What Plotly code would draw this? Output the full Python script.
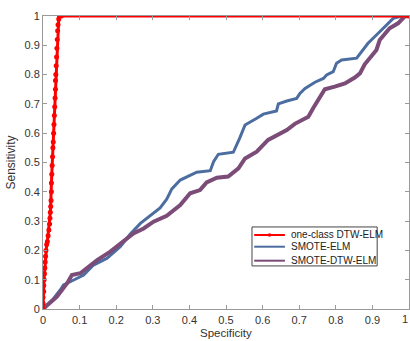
import plotly.graph_objects as go

# one-class DTW-ELM
red_x = [0, 0, 0, 0.002, 0.002, 0.003, 0.004, 0.005, 0.006, 0.007, 0.008, 0.010, 0.012, 0.014,
         0.016, 0.018, 0.019, 0.020, 0.021, 0.022, 0.023, 0.023, 0.024, 0.025, 0.026, 0.027,
         0.028, 0.029, 0.030, 0.031, 0.032, 0.033, 0.034, 0.034, 0.035, 0.036, 0.037, 0.038,
         0.039, 0.040, 0.041, 0.043, 0.045, 0.05, 1.0]
red_y = [0, 0.02, 0.04, 0.06, 0.08, 0.10, 0.12, 0.14, 0.16, 0.18, 0.20, 0.22, 0.23, 0.25,
         0.27, 0.29, 0.31, 0.33, 0.35, 0.37, 0.40, 0.43, 0.46, 0.49, 0.52, 0.55,
         0.57, 0.60, 0.63, 0.66, 0.69, 0.72, 0.75, 0.78, 0.80, 0.83, 0.86, 0.89,
         0.92, 0.95, 0.97, 0.99, 1.0, 1.0, 1.0]

# SMOTE-ELM
blue_x = [0, 0.029, 0.047, 0.056, 0.084, 0.111, 0.138, 0.175, 0.211, 0.238, 0.266, 0.293, 0.32,
          0.338, 0.352, 0.375, 0.42, 0.457, 0.466, 0.479, 0.52, 0.538, 0.552, 0.584, 0.602,
          0.638, 0.643, 0.666, 0.693, 0.702, 0.716, 0.743, 0.766, 0.775, 0.793, 0.802, 0.816,
          0.857, 0.879, 0.888, 0.911, 0.947, 0.957, 0.975, 1.0]
blue_y = [0, 0.036, 0.065, 0.082, 0.099, 0.116, 0.15, 0.173, 0.213, 0.255, 0.292, 0.318, 0.345,
          0.375, 0.41, 0.44, 0.467, 0.472, 0.503, 0.528, 0.535, 0.585, 0.628, 0.651, 0.665,
          0.676, 0.70, 0.71, 0.719, 0.736, 0.753, 0.774, 0.787, 0.799, 0.81, 0.839, 0.85,
          0.856, 0.89, 0.907, 0.935, 0.981, 0.992, 0.998, 1.0]

# SMOTE-DTW-ELM
purple_x = [0, 0.038, 0.066, 0.079, 0.102, 0.148, 0.184, 0.22, 0.247, 0.275, 0.302, 0.338,
            0.375, 0.402, 0.429, 0.447, 0.475, 0.506, 0.534, 0.552, 0.584, 0.615, 0.638,
            0.666, 0.688, 0.706, 0.725, 0.738, 0.756, 0.77, 0.797, 0.825, 0.852, 0.866,
            0.879, 0.897, 0.911, 0.92, 0.947, 0.97, 0.988, 1.0]
purple_y = [0, 0.042, 0.088, 0.116, 0.122, 0.167, 0.196, 0.23, 0.258, 0.275, 0.298, 0.318,
            0.355, 0.395, 0.406, 0.432, 0.448, 0.452, 0.48, 0.514, 0.537, 0.577, 0.594,
            0.611, 0.632, 0.645, 0.656, 0.685, 0.725, 0.75, 0.759, 0.77, 0.79, 0.804,
            0.835, 0.864, 0.884, 0.918, 0.958, 0.975, 0.998, 1.0]

series_names = ["one-class DTW-ELM", "SMOTE-ELM", "SMOTE-DTW-ELM"]
series_colors = ["#FF0000", "#4C6DA0", "#7B4C78"]

ticks = [0, 0.1, 0.2, 0.3, 0.4, 0.5, 0.6, 0.7, 0.8, 0.9, 1]
tick_text = ["0", "0.1", "0.2", "0.3", "0.4", "0.5", "0.6", "0.7", "0.8", "0.9", "1"]
x_title = "Specificity"
y_title = "Sensitivity"

FONT = "Liberation Sans, Arial, sans-serif"
TXT = "#333333"

fig = go.Figure()
fig.add_trace(go.Scatter(x=blue_x, y=blue_y, mode="lines", name=series_names[1],
                         line=dict(color=series_colors[1], width=3), showlegend=False))
fig.add_trace(go.Scatter(x=purple_x, y=purple_y, mode="lines", name=series_names[2],
                         line=dict(color=series_colors[2], width=4), showlegend=False))
fig.add_trace(go.Scatter(x=red_x, y=red_y, mode="lines+markers", name=series_names[0],
                         line=dict(color=series_colors[0], width=3),
                         marker=dict(color=series_colors[0], size=5, symbol="circle"),
                         showlegend=False))

axis_common = dict(
    range=[0, 1], tickvals=ticks, showgrid=False, zeroline=False,
    showline=True, linecolor="#9a9a9a", linewidth=1, mirror="ticks",
    ticks="inside", ticklen=4, tickcolor="#9a9a9a", automargin=False,
    tickfont=dict(family=FONT, size=11, color=TXT),
)

# Manual legend box (paper coordinates), matching the compact MATLAB style
lg_x0, lg_x1, lg_y0, lg_y1 = 0.571, 0.913, 0.147, 0.280
row_y = [0.2526, 0.2126, 0.1649]
shapes = [dict(type="rect", xref="paper", yref="paper", x0=lg_x0, x1=lg_x1, y0=lg_y0, y1=lg_y1,
               line=dict(color="#444444", width=1), fillcolor="white", layer="above")]
annotations = []
for name, col, ry in zip(series_names, series_colors, row_y):
    shapes.append(dict(type="line", xref="paper", yref="paper", x0=0.577, x1=0.661, y0=ry, y1=ry,
                       line=dict(color=col, width=2), layer="above"))
    annotations.append(dict(xref="paper", yref="paper", x=0.671, y=ry, text=name, showarrow=False,
                            xanchor="left", yanchor="middle",
                            font=dict(family=FONT, size=10, color="#222222")))
# marker dot in the red legend sample
shapes.append(dict(type="circle", xref="paper", yref="paper", x0=0.614, x1=0.624,
                   y0=row_y[0] - 0.006, y1=row_y[0] + 0.006,
                   line=dict(color="#FF0000", width=0), fillcolor="#FF0000", layer="above"))

# last x tick label, right-aligned so it stays inside the page
annotations.append(dict(xref="x", yref="paper", x=ticks[-1], y=0, text=tick_text[-1],
                        showarrow=False, xanchor="right", yanchor="top", yshift=-2, xshift=1,
                        font=dict(family=FONT, size=11, color=TXT)))
# x-axis title, bottom edge at the bottom of the page
annotations.append(dict(xref="paper", yref="paper", x=0.5, y=0, text=x_title,
                        showarrow=False, xanchor="center", yanchor="bottom", yshift=-32,
                        font=dict(family=FONT, size=11.5, color=TXT)))

fig.update_layout(
    width=410, height=341,
    margin=dict(l=43, r=1, t=16, b=32),
    paper_bgcolor="white", plot_bgcolor="white",
    showlegend=False,
    shapes=shapes,
    annotations=annotations,
    xaxis=dict(**axis_common, ticktext=tick_text[:-1] + [""], ticklabelstandoff=1),
    yaxis=dict(**axis_common, ticktext=tick_text,
               title=dict(text=y_title, standoff=6,
                          font=dict(family=FONT, size=12, color=TXT))),
)

fig.write_html("out.html")
